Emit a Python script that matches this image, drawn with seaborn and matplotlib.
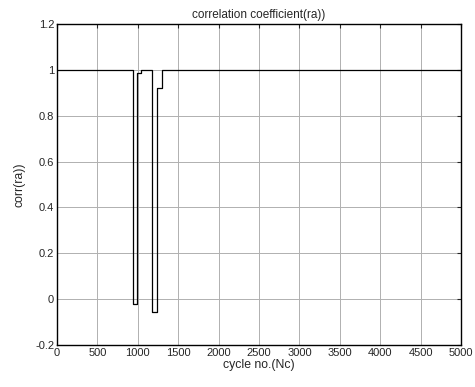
import matplotlib
matplotlib.use("Agg")
import matplotlib.pyplot as plt
import seaborn as sns
import pandas as pd

cycles = [0, 940, 990, 1040, 1180, 1240, 1300, 5000]
corr = [1.0, -0.022, 0.985, 1.0, -0.057, 0.92, 1.0, 1.0]
xticks = [0, 500, 1000, 1500, 2000, 2500, 3000, 3500, 4000, 4500, 5000]
yticks = [-0.2, 0, 0.2, 0.4, 0.6, 0.8, 1, 1.2]
ytick_labels = ["-0.2", "0", "0.2", "0.4", "0.6", "0.8", "1", "1.2"]

sns.set_style("white")
plt.rcParams["font.family"] = ["Liberation Sans", "DejaVu Sans"]

df = pd.DataFrame({"cycle": cycles, "corr": corr})
fig = plt.figure(figsize=(4.75, 3.87), dpi=100)
ax = fig.add_axes([0.12, 0.1085, 0.8505, 0.8295])
sns.lineplot(data=df, x="cycle", y="corr", ax=ax, color="black", linewidth=0.9,
             drawstyle="steps-post", estimator=None, sort=False)
ax.set_xlim(0, 5000)
ax.set_ylim(-0.2, 1.2)
ax.set_xticks(xticks)
ax.set_xticklabels([str(t) for t in xticks], fontsize=8)
ax.set_yticks(yticks)
ax.set_yticklabels(ytick_labels, fontsize=8)
ax.grid(True, color="#b0b0b0", linewidth=0.7, linestyle="-")
ax.set_axisbelow(True)
ax.tick_params(direction="in", length=3, top=True, right=True, width=0.8, pad=2)
for s in ax.spines.values():
    s.set_visible(True)
    s.set_color("black")
    s.set_linewidth(1.0)
ax.set_xlabel("cycle no.(Nc)", fontsize=8.8, labelpad=1)
ax.set_ylabel("corr(ra))", fontsize=8.8, labelpad=7)
ax.set_title("correlation coefficient(ra))", fontsize=8.5, pad=4)
fig.savefig("out.png", dpi=100)
